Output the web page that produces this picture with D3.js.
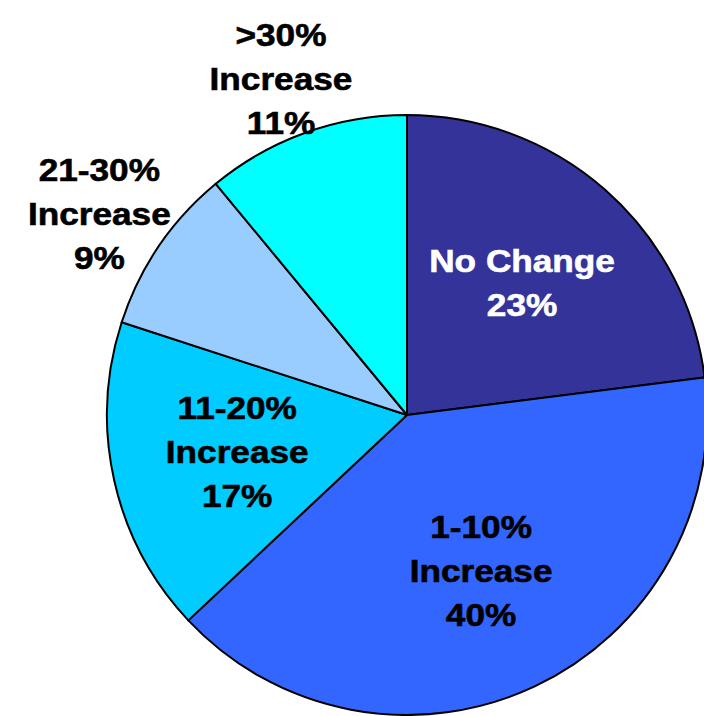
<!DOCTYPE html>
<html>
<head>
<meta charset="utf-8">
<script src="https://cdn.jsdelivr.net/npm/d3@7"></script>
<style>
  body { margin: 0; background: #fff; }
  svg { display: block; }
  text { font-family: "Liberation Sans", Arial, sans-serif; font-weight: bold; }
</style>
</head>
<body>
<div id="chart"></div>
<script>
// slices, clockwise from 12 o'clock
var categories = ["No Change", "1-10% Increase", "11-20% Increase", "21-30% Increase", ">30% Increase"];
var labelLines = [["No Change"], ["1-10%", "Increase"], ["11-20%", "Increase"], ["21-30%", "Increase"], [">30%", "Increase"]];
var values = [23, 40, 17, 9, 11];
var colors = ["#333399", "#3366ff", "#00ccff", "#99ccff", "#00ffff"];

var width = 704,
    height = 716,
    cx = 407, cy = 415,
    radius = 300,
    lineH = 44,
    fontSize = 32;

var svg = d3.select("#chart").append("svg")
    .attr("width", width)
    .attr("height", height);

var g = svg.append("g")
    .attr("transform", "translate(" + cx + "," + cy + ")");

var color = d3.scaleOrdinal().domain(categories).range(colors);

var pie = d3.pie()
    .sort(null)
    .value(function (d) { return d.value; });

var data = categories.map(function (c, i) {
  return { name: c, value: values[i], lines: labelLines[i].concat([values[i] + "%"]) };
});

var arcs = pie(data);

var arc = d3.arc().innerRadius(0).outerRadius(radius);

g.selectAll("path.slice")
  .data(arcs)
  .enter().append("path")
    .attr("class", "slice")
    .attr("d", arc)
    .attr("fill", function (d) { return color(d.data.name); })
    .attr("stroke", "#000")
    .attr("stroke-width", 2)
    .attr("stroke-linejoin", "round");

// small slices get their label outside the pie, pushed out by half the label box
function labelPos(d) {
  if (d.data.value >= 15) {
    var r = radius * 0.58;
    return d3.arc().innerRadius(r).outerRadius(r).centroid(d);
  }
  var a = (d.startAngle + d.endAngle) / 2,
      dx = Math.sin(a), dy = -Math.cos(a),
      r2 = radius * 0.98;
  return [dx * r2 + dx * 78, dy * r2 + dy * 62];
}

var labels = g.selectAll("g.label")
  .data(arcs)
  .enter().append("g")
    .attr("class", "label")
    .attr("transform", function (d) {
      var c = labelPos(d);
      return "translate(" + c[0] + "," + c[1] + ") scale(1.1,1)";
    });

labels.each(function (d) {
  var n = d.data.lines.length;
  var fill = d3.hsl(color(d.data.name)).l < 0.45 ? "#fff" : "#000";
  d3.select(this).selectAll("text")
    .data(d.data.lines)
    .enter().append("text")
      .attr("text-anchor", "middle")
      .attr("y", function (t, i) { return (i - (n - 1) / 2) * lineH + 10; })
      .style("font-size", fontSize + "px")
      .attr("fill", fill)
      .attr("stroke", fill)
      .attr("stroke-width", 0.6)
      .text(function (t) { return t; });
});
</script>
</body>
</html>
